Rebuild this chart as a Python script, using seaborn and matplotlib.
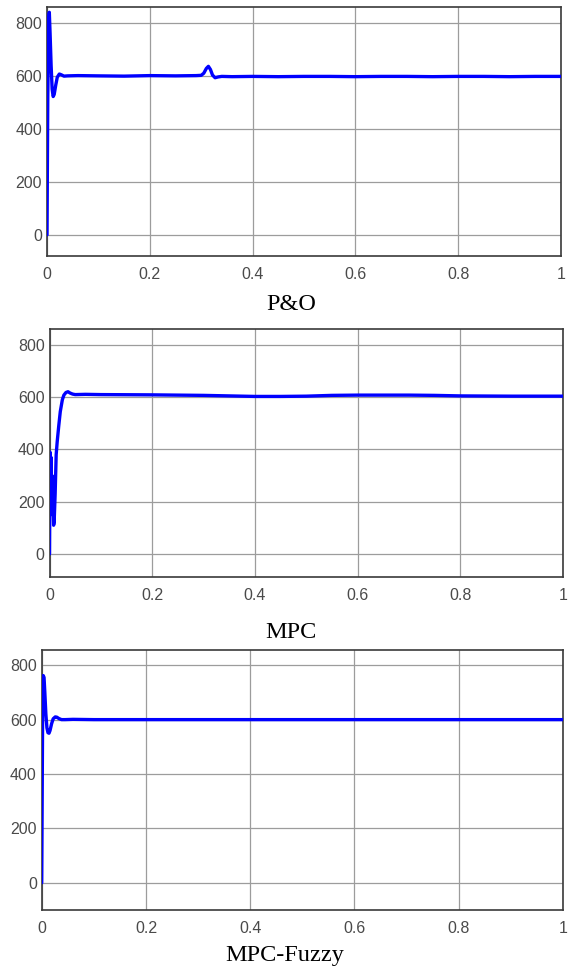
import matplotlib
matplotlib.use("Agg")
import matplotlib.pyplot as plt
import seaborn as sns
import pandas as pd

# ---------------- data ----------------
po_t = [0, 0.0015, 0.0035, 0.0045, 0.006, 0.008, 0.010, 0.012, 0.014, 0.017,
        0.020, 0.024, 0.028, 0.033, 0.04, 0.06, 0.10, 0.15, 0.20, 0.25, 0.29,
        0.30, 0.305, 0.31, 0.314, 0.318, 0.322, 0.327, 0.333, 0.34, 0.36,
        0.40, 0.45, 0.50, 0.55, 0.60, 0.65, 0.70, 0.75, 0.80, 0.85, 0.90,
        0.95, 1.0]
po_v = [0, 520, 820, 840, 760, 640, 550, 522, 530, 565,
        595, 607, 604, 599, 600, 601, 600, 599, 601, 600, 601,
        602, 610, 628, 636, 624, 603, 593, 596, 598, 597,
        598, 597, 598, 598, 597, 598, 598, 597, 598, 598, 597,
        598, 598]

mpc_t = [0, 0.001, 0.002, 0.003, 0.004, 0.005, 0.006, 0.007, 0.008, 0.009,
         0.011, 0.013, 0.015, 0.018, 0.021, 0.025, 0.028, 0.032, 0.036,
         0.040, 0.045, 0.05, 0.07, 0.1, 0.2, 0.3, 0.35, 0.4, 0.45, 0.5,
         0.55, 0.6, 0.7, 0.75, 0.8, 0.9, 1.0]
mpc_v = [0, 390, 300, 370, 220, 300, 150, 200, 110, 120,
         230, 380, 430, 490, 545, 590, 608, 618, 621,
         616, 612, 610, 611, 610, 609, 607, 605, 603, 603, 604,
         607, 608, 608, 607, 605, 604, 604]

mf_t = [0, 0.001, 0.002, 0.003, 0.0045, 0.006, 0.008, 0.010, 0.012, 0.014,
        0.016, 0.019, 0.022, 0.026, 0.029, 0.033, 0.038, 0.045, 0.06, 0.1,
        0.3, 0.5, 0.7, 1.0]
mf_v = [0, 350, 700, 762, 755, 700, 620, 570, 552, 550,
        560, 585, 603, 610, 609, 604, 600, 600, 601, 600,
        600, 600, 600, 600]

captions = ["P&O", "MPC", "MPC-Fuzzy"]
x_ticks = [0, 0.2, 0.4, 0.6, 0.8, 1.0]
x_tick_labels = ["0", "0.2", "0.4", "0.6", "0.8", "1"]
y_ticks = [0, 200, 400, 600, 800]
y_tick_labels = ["0", "200", "400", "600", "800"]

# ---------------- figure ----------------
sns.set_style("white")
plt.rcParams["font.family"] = ["Liberation Sans", "DejaVu Sans"]

W, H = 568, 968
fig = plt.figure(figsize=(W / 100, H / 100), dpi=100)

# panel boxes in pixels: left, right, top, bottom ; y-limits
boxes = [(47, 561, 7, 256, (-80, 860)),
         (49.5, 563, 329, 577, (-88, 861)),
         (41.7, 563, 650, 910, (-100, 856))]
cap_pos = [(291, 310), (291, 638), (285, 961)]

series = [(po_t, po_v), (mpc_t, mpc_v), (mf_t, mf_v)]

for (l, r, t, b, yl), (xs, ys), cap, (cx, cy) in zip(boxes, series, captions, cap_pos):
    ax = fig.add_axes([l / W, 1 - b / H, (r - l) / W, (b - t) / H])
    df = pd.DataFrame({"t": xs, "v": ys})
    sns.lineplot(data=df, x="t", y="v", ax=ax, color="#0000ff",
                 linewidth=2.4, estimator=None, sort=False, zorder=3)
    ax.set_xlim(0, 1)
    ax.set_ylim(*yl)
    ax.set_xticks(x_ticks)
    ax.set_xticklabels(x_tick_labels)
    ax.set_yticks(y_ticks)
    ax.set_yticklabels(y_tick_labels)
    ax.set_xlabel("")
    ax.set_ylabel("")
    ax.grid(True, color="#9c9c9c", linewidth=0.9, zorder=1)
    ax.tick_params(axis="both", direction="in", length=0,
                   labelsize=11.5, labelcolor="#4a4a4a")
    ax.tick_params(axis="x", pad=8)
    ax.tick_params(axis="y", pad=3.5)
    for s in ax.spines.values():
        s.set_visible(True)
        s.set_color("#3a3a3a")
        s.set_linewidth(1.2)
    fig.text(cx / W, 1 - cy / H, cap, ha="center", va="baseline",
             fontsize=17.5, family=["Liberation Serif", "DejaVu Serif"],
             color="black")

fig.savefig("out.png", dpi=100)
